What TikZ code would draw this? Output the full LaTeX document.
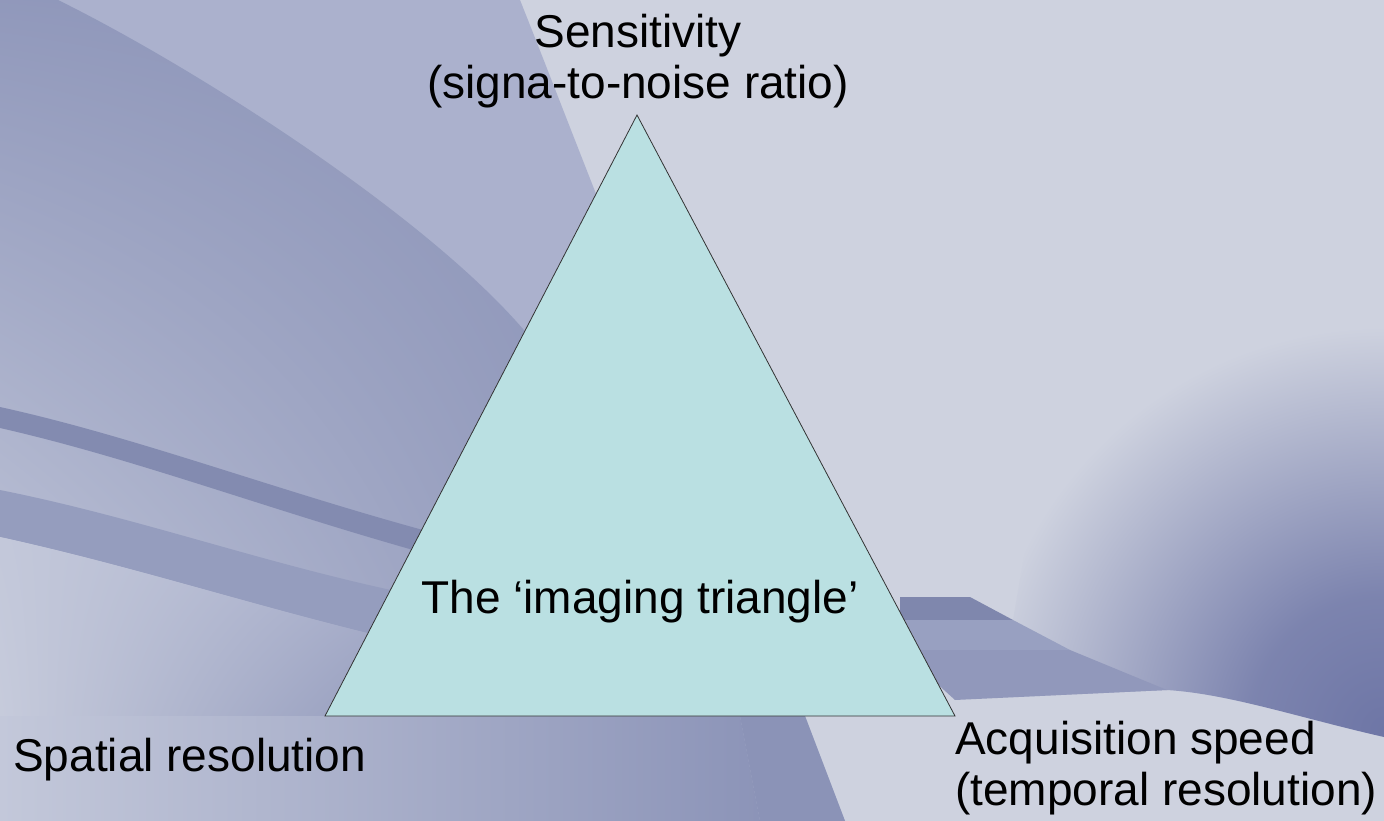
\documentclass[tikz,border=0pt]{standalone}
\usepackage{fontspec}
\setmainfont{Liberation Sans}
\usetikzlibrary{shadings}
\definecolor{slidebg}{HTML}{CED2DF}
\definecolor{slidemid}{HTML}{ABB1CD}
\definecolor{slidepale}{HTML}{C3C8DA}
\definecolor{slidedeep}{HTML}{8C94B8}
\definecolor{slidedark}{HTML}{7F87AD}
\definecolor{slidenight}{HTML}{6E76A6}
\definecolor{trifill}{HTML}{BAE0E2}
\pgfdeclareradialshading{bandglow}{\pgfpoint{0bp}{0bp}}{color(0bp)=(slidenight); color(6bp)=(slidenight!85!slidebg); color(18bp)=(slidebg); color(50bp)=(slidebg)}
\tikzset{
  corner label/.style={font=\fontsize{46}{51}\selectfont, align=center, inner sep=0pt},
  tri edge/.style={draw=black!80, line width=0.8pt, line join=miter}
}
\begin{document}
\begin{tikzpicture}[x=1pt,y=-1pt]
  \useasboundingbox (0,0) rectangle (1384,821);
  % slide background
  \fill[slidebg] (0,0) rectangle (1384,821);
  \fill[slidemid] (0,0) -- (520,0) .. controls (560,100) and (620,260) .. (700,450)
    .. controls (760,600) and (790,680) .. (805,716) -- (845,821) -- (0,821) -- cycle;
  \shade[upper left=slidedeep!85!slidemid, upper right=slidedeep, lower left=slidepale, lower right=slidedeep]
    (0,0) -- (58,0) .. controls (200,70) and (450,230) .. (540,350)
    .. controls (600,450) and (650,600) .. (700,716) -- (0,716) -- cycle;
  % streaks on the left
  \fill[slidedark!90!slidemid] (0,407) .. controls (150,440) and (300,500) .. (480,545)
    -- (480,568) .. controls (300,522) and (150,462) .. (0,428) -- cycle;
  \fill[slidedeep!70!slidemid] (0,490) .. controls (150,520) and (280,570) .. (440,600)
    -- (440,650) .. controls (280,615) and (150,570) .. (0,537) -- cycle;
  \shade[upper left=slidepale, lower left=slidepale!70!slidebg, upper right=slidemid, lower right=slidedeep]
    (0,537) .. controls (150,570) and (280,615) .. (440,650) -- (470,716) -- (0,716) -- cycle;
  \shade[left color=slidepale, right color=slidedeep] (0,716) -- (740,716) -- (760,821) -- (0,821) -- cycle;
  \fill[slidedeep!95!slidedark] (740,716) -- (805,716) -- (845,821) -- (760,821) -- cycle;
  % band on the right
  \begin{scope}
    \clip (900,597) -- (970,597) -- (1013,620) .. controls (1050,400) and (1100,200) .. (1150,0)
      -- (1384,0) -- (1384,737) .. controls (1300,718) and (1230,694) .. (1167,690) -- (955,700) -- cycle;
    \shade[shading=bandglow] (1384,730) circle (560);
  \end{scope}
  \fill[slidedark] (900,597) -- (970,597) -- (1013,620) -- (900,620) -- cycle;
  \fill[slidedeep!60!slidemid] (900,620) -- (1013,620) -- (1070,650) -- (900,650) -- cycle;
  \fill[slidedeep!85!slidemid] (900,650) -- (1070,650) -- (1167,690) -- (955,700) -- cycle;

  % imaging triangle
  \coordinate (apex) at (637,115);
  \coordinate (spatial) at (325,716);
  \coordinate (speed) at (955,716);
  \filldraw[fill=trifill, tri edge] (apex) -- (spatial) -- (speed) -- cycle;

  \node[corner label, anchor=base] (centre) at (640,613) {The ‘imaging triangle’};
  \node[corner label, anchor=base] (sens) at (638,99) {Sensitivity\\(signa-to-noise ratio)};
  \node[corner label, anchor=base west] (spat) at (13,771) {Spatial resolution};
  \node[corner label, anchor=base west, align=left] (acq) at (955,805) {Acquisition speed\\(temporal resolution)};
\end{tikzpicture}
\end{document}
